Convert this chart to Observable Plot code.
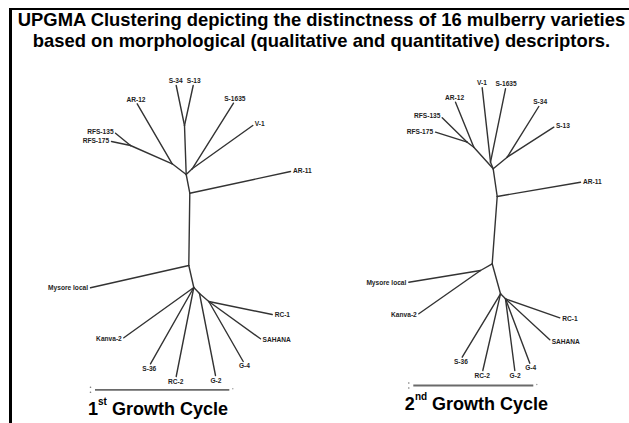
<!DOCTYPE html>
<html><head><meta charset="utf-8">
<script src="https://cdn.jsdelivr.net/npm/d3@7"></script>
<script src="https://cdn.jsdelivr.net/npm/@observablehq/plot@0.6"></script>
<style>
html,body{margin:0;padding:0;background:#fff;}
#wrap{position:relative;width:629px;height:423px;overflow:hidden;font-family:"Liberation Sans",Arial,sans-serif;}
#frame{position:absolute;left:9px;top:8px;right:-10px;bottom:-10px;border-top:2px solid #000;border-left:3px solid #000;}
#title{position:absolute;left:12px;right:-2px;top:10px;text-align:center;font-weight:bold;font-size:18.4px;line-height:20.5px;color:#000;white-space:nowrap;}
.cap{position:absolute;font-weight:bold;font-size:18px;line-height:18px;transform:translateX(-50%);white-space:nowrap;color:#000;}
.cap sup{font-size:10px;line-height:0;vertical-align:top;position:relative;top:2px;}
#chart{position:absolute;left:0;top:0;}
</style></head>
<body>
<div id="wrap"><div id="frame"></div><div id="chart"></div><div id="title"></div></div>
<script>
const titleLines = [
  "UPGMA Clustering depicting the distinctness of 16 mulberry varieties",
  "based on morphological (qualitative and quantitative) descriptors."
];
const cycleNum = ["1", "2"];
const cycleOrd = ["st", "nd"];
const cycleText = "Growth Cycle";

// Tree 1 (1st growth cycle): node names ("_" = internal node), positions, parent links
const t1Name = ["_u","_t","_w","_l","_a","S-34","S-13","_b","AR-12","_c","RFS-135","RFS-175","_d","S-1635","V-1","AR-11","Mysore local","Kanva-2","S-36","RC-2","_m","G-2","_n","G-4","SAHANA","RC-1"];
const t1X = [185.7,189.3,188.3,193.3,184,175.7,192.7,171.7,136.7,130,115,111,191.7,233,252.3,290,90,123.3,150,175.7,199,215,208.3,242.7,260,271.7];
const t1Y = [174,192.7,265,287,125,85,85,163.3,103.3,145,132.7,141,168.3,102.7,125,171,287.3,337.3,363.3,376,293,375,301,361,338.3,314];
const t1Parent = [null,"_u","_t","_w","_u","_a","_a","_u","_b","_b","_c","_c","_u","_d","_d","_t","_w","_l","_l","_l","_l","_m","_m","_n","_n","_n"];

// Tree 2 (2nd growth cycle)
const t2Name = ["_u","_t","_w","_l","_a","S-34","S-13","_d","V-1","S-1635","_b","AR-12","_c","RFS-135","RFS-175","AR-11","_k","Mysore local","Kanva-2","S-36","RC-2","_m","G-2","G-4","SAHANA","RC-1"];
const t2X = [492.7,496.7,491.7,500,506.7,538.3,553.3,490,481.7,505,473.3,455,466.7,441.7,435,580,480,408.3,418.3,461.7,482.3,505,514.3,529.3,549.3,559.3];
const t2Y = [168.3,196,263.3,293.3,156.7,106,126.7,161.7,87.3,88.3,146.7,101.7,141.7,117.3,131.7,181.7,270,281.7,313.3,356.7,370,298.3,370,362.7,339.3,317.3];
const t2Parent = [null,"_u","_t","_w","_u","_a","_a","_u","_d","_d","_u","_b","_b","_c","_c","_t","_w","_k","_k","_l","_l","_l","_m","_m","_m","_m"];

// Scale bars
const barX1 = [95, 413.3];
const barX2 = [229.3, 533.3];
const barY = [389.3, 385];
const capX = [158, 476.5];
const capBaseline = [415, 410];

document.getElementById("title").innerHTML = titleLines.join("<br>");

function rows(cycle, names, xs, ys, parents) {
  return names.map((n, i) => ({cycle, name: n, x: xs[i], y: ys[i], parent: parents[i]}));
}
const nodes = [...rows(1, t1Name, t1X, t1Y, t1Parent), ...rows(2, t2Name, t2X, t2Y, t2Parent)];
const key = d => d.cycle + "|" + d.name;
const byKey = new Map(nodes.map(d => [key(d), d]));
const edges = nodes.filter(d => d.parent).map(d => {
  const p = byKey.get(d.cycle + "|" + d.parent);
  return {x1: p.x, y1: p.y, x2: d.x, y2: d.y};
});
const off = 2.5;
const leaves = nodes.filter(d => !d.name.startsWith("_")).map(d => {
  const p = byKey.get(d.cycle + "|" + d.parent);
  const dx = d.x - p.x, dy = d.y - p.y, L = Math.hypot(dx, dy);
  const ux = dx / L, uy = dy / L;
  let group;
  if (ux > 0.55) group = "start";
  else if (ux < -0.55) group = "end";
  else group = uy < 0 ? "bottom" : "top";
  return {label: d.name, x: d.x + ux * off, y: d.y + uy * off, group};
});
const bars = barX1.map((v, i) => ({x1: v, x2: barX2[i], y: barY[i]}));

const textOpts = {text: "label", x: "x", y: "y", fontSize: 6.6, fontWeight: "bold",
  fontFamily: "'Liberation Sans',Arial,sans-serif", fill: "#1e1e1e"};

const chart = Plot.plot({
  width: 629, height: 423, margin: 0,
  x: {domain: [0, 629], range: [0, 629], axis: null},
  y: {domain: [0, 423], range: [0, 423], axis: null},
  style: {background: "transparent"},
  marks: [
    Plot.link(edges, {x1: "x1", y1: "y1", x2: "x2", y2: "y2", stroke: "#333", strokeWidth: 1.4, strokeLinecap: "round"}),
    Plot.text(leaves.filter(d => d.group === "start"), {...textOpts, textAnchor: "start", lineAnchor: "middle"}),
    Plot.text(leaves.filter(d => d.group === "end"), {...textOpts, textAnchor: "end", lineAnchor: "middle"}),
    Plot.text(leaves.filter(d => d.group === "bottom"), {...textOpts, textAnchor: "middle", lineAnchor: "bottom"}),
    Plot.text(leaves.filter(d => d.group === "top"), {...textOpts, textAnchor: "middle", lineAnchor: "top"}),
    Plot.ruleY(bars, {y: "y", x1: "x1", x2: "x2", stroke: "#6a6a6a", strokeWidth: 1.8}),
    Plot.dot(bars, {x: "x1", y: "y", dx: -5, dy: -2.5, r: 0.8, fill: "#777", stroke: null}),
    Plot.dot(bars, {x: "x1", y: "y", dx: -5, dy: 2.5, r: 0.8, fill: "#777", stroke: null}),
    Plot.dot(bars, {x: "x2", y: "y", dx: 3, dy: -1, r: 0.7, fill: "#999", stroke: null})
  ]
});
document.getElementById("chart").appendChild(chart);

const wrap = document.getElementById("wrap");
cycleNum.forEach((n, i) => {
  const c = document.createElement("div");
  c.className = "cap";
  c.style.left = capX[i] + "px";
  c.style.top = (capBaseline[i] - 15) + "px";
  c.innerHTML = n + "<sup>" + cycleOrd[i] + "</sup> " + cycleText;
  wrap.appendChild(c);
});
</script>
</body></html>
